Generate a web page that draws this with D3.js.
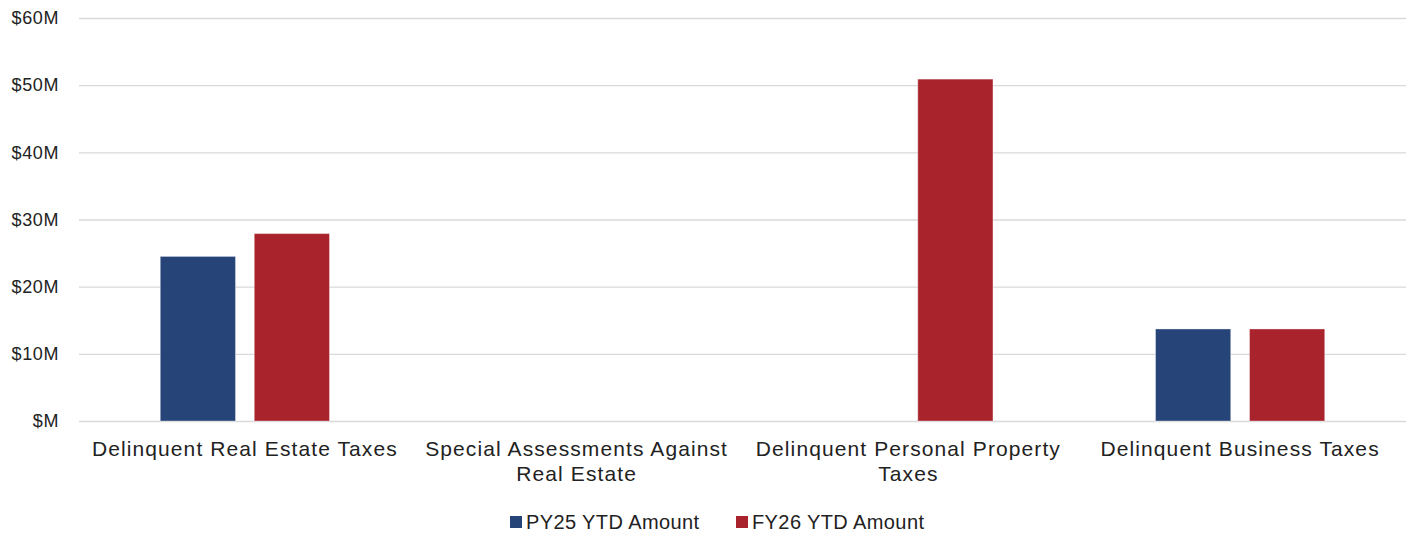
<!DOCTYPE html>
<html>
<head>
<meta charset="utf-8">
<script src="https://cdn.jsdelivr.net/npm/d3@7"></script>
<style>
  body { margin: 0; background: #fff; }
  svg text { font-family: "Liberation Sans", Arial, sans-serif; fill: #222; }
</style>
</head>
<body>
<div id="chart"></div>
<script>
// Delinquent tax collections, year-to-date comparison ($ millions)
const categories = [
    ['Delinquent Real Estate Taxes'],
    ['Special Assessments Against', 'Real Estate'],
    ['Delinquent Personal Property', 'Taxes'],
    ['Delinquent Business Taxes']
];
const seriesNames = ['PY25 YTD Amount', 'FY26 YTD Amount'];
const py25Values = [24.5, 0, 0, 13.7];
const fy26Values = [27.9, 0, 50.9, 13.7];
const yTicks = [0, 10, 20, 30, 40, 50, 60];

const colors = ['#264478', '#a9232d'];

const totalWidth = 1415;
const totalHeight = 534;
const margin = { top: 18, right: 9, bottom: 113, left: 79 };
const width = totalWidth - margin.left - margin.right;
const height = totalHeight - margin.top - margin.bottom;

const svg = d3.select('#chart').append('svg')
    .attr('width', totalWidth)
    .attr('height', totalHeight);

const g = svg.append('g')
    .attr('transform', `translate(${margin.left},${margin.top})`);

const catKeys = categories.map(c => c.join(' '));
const rows = catKeys.map((k, i) => ({ key: k, lines: categories[i], values: [py25Values[i], fy26Values[i]] }));

const x0 = d3.scaleBand()
    .domain(catKeys)
    .range([0, width])
    .paddingInner(0.49)
    .paddingOuter(0.245);

const x1 = d3.scaleBand()
    .domain([0, 1])
    .range([0, x0.bandwidth()])
    .paddingInner(0.2);

const y = d3.scaleLinear()
    .domain([0, 60])
    .range([height, 0]);

// Gridlines
g.append('g')
    .selectAll('line')
    .data(yTicks)
    .enter()
    .append('line')
    .attr('x1', 0)
    .attr('x2', width)
    .attr('y1', d => y(d) + 0.5)
    .attr('y2', d => y(d) + 0.5)
    .attr('stroke', '#d9d9d9')
    .attr('stroke-width', 1.3);

// Y-axis labels
const yAxis = d3.axisLeft(y)
    .tickValues(yTicks)
    .tickSize(0)
    .tickPadding(20)
    .tickFormat(d => `$${d === 0 ? '' : d}M`);

g.append('g')
    .call(yAxis)
    .call(a => a.select('.domain').remove())
    .selectAll('text')
    .style('font-size', '18px')
    .style('letter-spacing', '0.6px')
    .style('fill', '#222');

// Bars
const groups = g.selectAll('.cat')
    .data(rows)
    .enter()
    .append('g')
    .attr('class', 'cat')
    .attr('transform', d => `translate(${x0(d.key)},0)`);

groups.selectAll('rect')
    .data(d => d.values.map((v, i) => ({ v, i })))
    .enter()
    .append('rect')
    .attr('x', d => x1(d.i))
    .attr('y', d => y(d.v))
    .attr('width', x1.bandwidth())
    .attr('height', d => height - y(d.v))
    .attr('fill', d => colors[d.i])
    .attr('stroke', 'rgba(255,255,255,0.35)')
    .attr('stroke-width', 1);

// Category labels
const labels = g.selectAll('.cat-label')
    .data(rows)
    .enter()
    .append('text')
    .attr('class', 'cat-label')
    .attr('x', d => x0(d.key) + x0.bandwidth() / 2)
    .attr('y', height + 35)
    .attr('text-anchor', 'middle')
    .style('font-size', '21px')
    .style('letter-spacing', '1.1px');

labels.selectAll('tspan')
    .data(d => d.lines)
    .enter()
    .append('tspan')
    .attr('x', function() { return d3.select(this.parentNode).attr('x'); })
    .attr('dy', (d, i) => i === 0 ? 0 : 25)
    .text(d => d);

// Legend
const legend = svg.append('g')
    .attr('transform', 'translate(510, 522)');

const legendItems = legend.selectAll('g')
    .data(seriesNames)
    .enter()
    .append('g')
    .attr('transform', (d, i) => `translate(${i * 226},0)`);

legendItems.append('rect')
    .attr('x', 0)
    .attr('y', -6)
    .attr('width', 12)
    .attr('height', 12)
    .attr('fill', (d, i) => colors[i]);

legendItems.append('text')
    .attr('x', 16)
    .attr('y', 0)
    .attr('dy', '0.35em')
    .style('font-size', '20px')
    .style('letter-spacing', '0.4px')
    .text(d => d);
</script>
</body>
</html>
